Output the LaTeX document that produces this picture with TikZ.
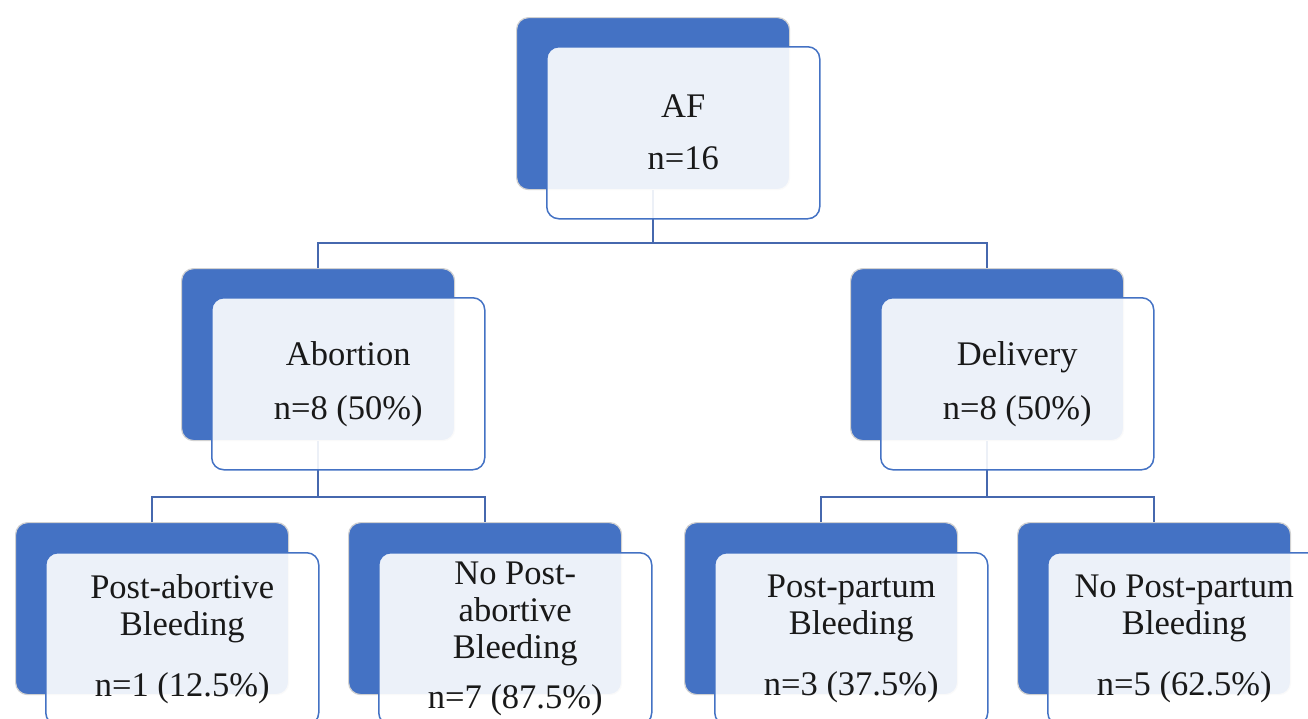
\documentclass[tikz,border=0pt]{standalone}
\usepackage{fontspec}
\setmainfont{Liberation Serif}
\usetikzlibrary{calc}
\definecolor{blueA}{HTML}{4472C4}
\definecolor{connC}{HTML}{4668AE}
\begin{document}
\begin{tikzpicture}[x=1pt,y=1pt,
  backbox/.style={rectangle, rounded corners=12pt, minimum width=273pt, minimum height=172pt,
    fill=blueA, draw=black!18, line width=1.2pt, inner sep=0pt, anchor=north west},
  frontbox/.style={rectangle, rounded corners=12pt, minimum width=273pt, minimum height=172pt,
    fill=white, fill opacity=0.9, text opacity=1, draw=blueA, line width=1.5pt, inner sep=0pt,
    align=center, font=\fontsize{34.5}{37}\selectfont, text=black!90, anchor=north west},
  conn/.style={draw=connC, line width=2pt}]
\path[use as bounding box] (0,0) rectangle (1308,-718);
\clip (0,0) rectangle (1308,-718);
\fill[white] (0,0) rectangle (1308,-718);
% back boxes
\node[backbox] (afB) at (516,-17) {};
\node[backbox] (abB) at (181,-268) {};
\node[backbox] (deB) at (850,-268) {};
\node[backbox] (b1B) at (15,-522) {};
\node[backbox] (b2B) at (348,-522) {};
\node[backbox] (b3B) at (684,-522) {};
\node[backbox] (b4B) at (1017,-522) {};
% connectors
\draw[conn] (abB.north) -- ++(0,25) -| (afB.south);
\draw[conn] (deB.north) -- ++(0,25) -| (afB.south);
\draw[conn] (b1B.north) -- ++(0,25) -| (abB.south);
\draw[conn] (b2B.north) -- ++(0,25) -| (abB.south);
\draw[conn] (b3B.north) -- ++(0,25) -| (deB.south);
\draw[conn] (b4B.north) -- ++(0,25) -| (deB.south);
% front boxes
\node[frontbox] (af) at ($(afB.north west)+(30,-29)$) {AF\\[15pt]n=16};
\node[frontbox] (ab) at ($(abB.north west)+(30,-29)$) {Abortion\\[17pt]n=8 (50\%)};
\node[frontbox] (de) at ($(deB.north west)+(30,-29)$) {Delivery\\[17pt]n=8 (50\%)};
\node[frontbox] (b1) at ($(b1B.north west)+(30,-30)$) {Post-abortive\\Bleeding\\[24pt]n=1 (12.5\%)};
\node[frontbox] (b2) at ($(b2B.north west)+(30,-30)$) {No Post-\\abortive\\Bleeding\\[13pt]n=7 (87.5\%)};
\node[frontbox] (b3) at ($(b3B.north west)+(30,-30)$) {Post-partum\\Bleeding\\[24pt]n=3 (37.5\%)};
\node[frontbox] (b4) at ($(b4B.north west)+(30,-30)$) {No Post-partum\\Bleeding\\[24pt]n=5 (62.5\%)};
\end{tikzpicture}
\end{document}
